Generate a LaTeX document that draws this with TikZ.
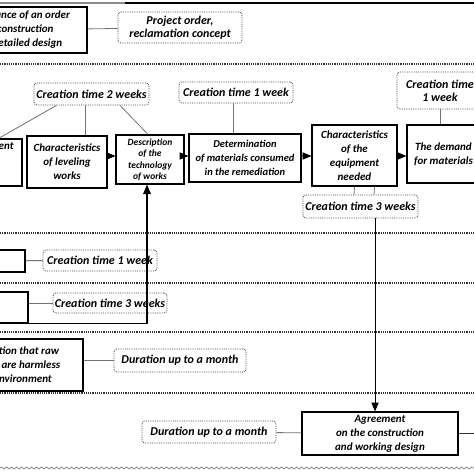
\documentclass[tikz,border=0pt]{standalone}
\usepackage{fontspec}
\setmainfont{Carlito}
\usetikzlibrary{arrows,shapes,calc,decorations.pathmorphing}

\begin{document}
\begin{tikzpicture}[x=1pt, y=1pt, thick, font=\fontsize{11}{14}\selectfont\bfseries\itshape,
  box/.style={rectangle, draw=black, line width=1.2pt, align=center, inner sep=1pt},
  note/.style={rectangle, draw=black!75, densely dotted, rounded corners=3pt, align=center, inner sep=1pt,
    font=\fontsize{12}{13}\selectfont\bfseries\itshape},
  link/.style={draw=black!55, line width=0.8pt},
  flow/.style={-triangle 45, draw=black, line width=1pt},
  sep/.style={draw=black!80, densely dotted, line width=1.2pt}]

  \useasboundingbox (0,0) rectangle (474,474);
  \clip (0,0) rectangle (474,474);

  % lanes
  \draw[black!45, line width=1.5pt] (0,471) -- (125,471);
  \draw[black, line width=1.5pt] (125,471) -- (474,471);
  \foreach \y in {410,241,191,142,81}
    \draw[sep] (0,\y) -- (474,\y);
  \draw[black!45, decorate, decoration={snake, amplitude=1pt, segment length=5pt}] (0,6) -- (474,6);
  \coordinate (flowrow) at (0,318);
  \coordinate (rightedge) at (474,0);

  % first lane
  \node[box, minimum width=139, minimum height=46] (order) at (17.5,444) {Acceptance of an order\\for construction\\and detailed design};
  \node[note, minimum width=124, minimum height=31] (concept) at (180,446.5) {Project order,\\reclamation concept};
  \draw[link] (order) -- (concept);

  % second lane
  \node[box, minimum width=70, minimum height=47] (assess) at (-13,311.5) {Assessment\\ \strut\\ \strut};
  \node[box, minimum width=80, minimum height=52] (leveling) at (67,312) {Characteristics\\of leveling\\works};
  \node[box, minimum width=68, minimum height=49, font=\fontsize{9.5}{11.5}\selectfont\bfseries\itshape] (technology) at (150,314.5) {Description\\of the\\technology\\of works};
  \node[box, minimum width=112, minimum height=48, font=\fontsize{10.5}{14}\selectfont\bfseries\itshape] (materials) at (245,316) {Determination\\of materials consumed\\in the remediation};
  \node[box, minimum width=85, minimum height=61] (equipment) at (354.5,318.5) {Characteristics\\of the\\equipment\\needed};
  \node[box, minimum width=73, minimum height=58] (demand) at (443.5,320) {The demand\\for materials};

  \node[note, minimum width=115, minimum height=22] (twoweeks) at (91.5,380) {Creation time 2 weeks};
  \node[note, minimum width=114, minimum height=21] (oneweek) at (236,381.5) {Creation time 1 week};
  \node[note, minimum width=86, minimum height=37] (oneweekb) at (440,383.5) {Creation time\\1 week};
  \node[note, minimum width=115, minimum height=23] (threeweeks) at (360.5,267.5) {Creation time 3 weeks};

  \draw[link] ([xshift=-35pt]twoweeks.south) -- ([xshift=-24pt]assess.north east);
  \draw[link] ([xshift=-6.5pt]twoweeks.south) -- ([xshift=18pt]leveling.north);
  \draw[link] ([xshift=28.5pt]twoweeks.south) -- ([xshift=-2pt]technology.north);
  \draw[link] ([xshift=-3pt]oneweek.south) -- ([xshift=-12pt]materials.north);
  \draw[link] (oneweekb.south) -- ([xshift=-3.5pt]demand.north);
  \draw[link] (equipment.south) -- ([xshift=-6.5pt]threeweeks.north);
  \draw[link] ([xshift=20pt]equipment.south) -- ([xshift=13.5pt]threeweeks.north);

  \draw[flow] (leveling.east |- flowrow) -- (technology.west |- flowrow);
  \draw[flow] (technology.east |- flowrow) -- (materials.west |- flowrow);
  \draw[flow] (materials.east |- flowrow) -- (equipment.west |- flowrow);
  \draw[flow] (equipment.east |- flowrow) -- (demand.west |- flowrow);

  % third and fourth lanes
  \node[box, minimum width=70, minimum height=22] (plan) at (-10,213) {};
  \node[note, minimum width=114, minimum height=21] (oneweekc) at (100,213.5) {Creation time 1 week};
  \node[box, minimum width=76, minimum height=31] (survey) at (-10,166.5) {};
  \node[note, minimum width=114, minimum height=20] (threeweeksb) at (110,171) {Creation time 3 weeks};
  \draw[draw=black!80, line width=0.8pt] (plan) -- (oneweekc);
  \draw[link] (survey.east |- threeweeksb.west) -- (threeweeksb.west);
  \draw[flow, line width=1.2pt] (survey.south east) -| ([xshift=-3pt]technology.south);

  % fifth lane
  \node[box, minimum width=150, minimum height=52] (harmless) at (8,109) {Confirmation that raw\\materials are harmless\\to the environment};
  \node[note, minimum width=132, minimum height=23] (month) at (180,113.5) {Duration up to a month};
  \draw[link] (harmless.east |- month.west) -- (month.west);

  % last lane
  \node[box, minimum width=156, minimum height=43] (agreement) at (380,40.5) {Agreement\\on the construction\\and working design};
  \node[note, minimum width=134, minimum height=22] (monthb) at (209,42) {Duration up to a month};
  \draw[link] (monthb) -- (agreement);
  \draw[draw=black!80, line width=0.8pt] (agreement.east) -- (agreement.east -| rightedge);
  \draw[flow] ([xshift=14.5pt]threeweeks.south) -- ([xshift=-5pt]agreement.north);
\end{tikzpicture}
\end{document}
